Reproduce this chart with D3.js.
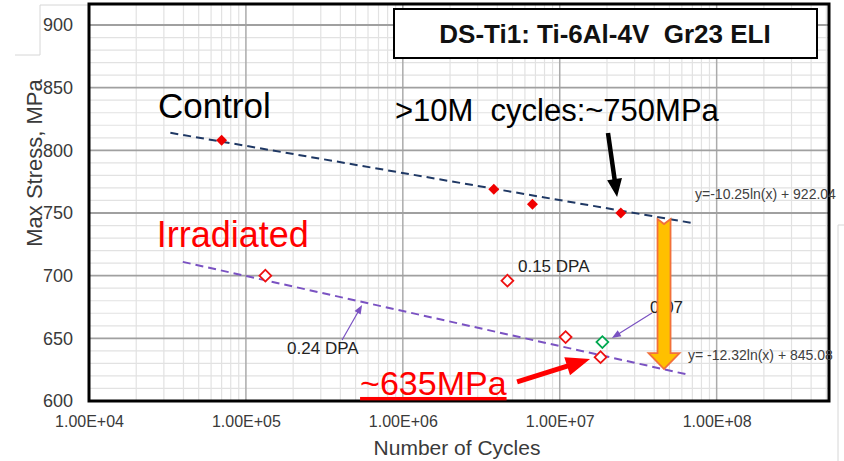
<!DOCTYPE html>
<html>
<head>
<meta charset="utf-8">
<script src="https://cdn.jsdelivr.net/npm/d3@7"></script>
<style>
  body { margin: 0; background: #fff; }
  svg { display: block; font-family: "Liberation Sans", Arial, sans-serif; }
</style>
</head>
<body>
<svg id="chart" width="844" height="461"></svg>
<script>
// values
const controlCycles = [7.0e4, 3.8e6, 6.7e6, 2.45e7];
const controlStress = [808, 769, 757, 750];
const irradCycles = [1.33e5, 4.64e6, 1.09e7, 1.82e7];
const irradStress = [700, 696, 651, 635];
const dpa07Cycles = [1.87e7];
const dpa07Stress = [647];

// trend line ends (cycles, stress)
const controlFit = [[3.3e4, 814], [7.0e7, 742]];
const irradFit = [[3.96e4, 711], [6.57e7, 621]];

const xTicks = [1e4, 1e5, 1e6, 1e7, 1e8];
const xTickLabels = ["1.00E+04", "1.00E+05", "1.00E+06", "1.00E+07", "1.00E+08"];
const yTicks = [600, 650, 700, 750, 800, 850, 900];

const margin = {top: 4, right: 15, bottom: 60, left: 89};
const W = 844, H = 461;

const x = d3.scaleLog()
    .domain([1e4, 5.2e8])
    .range([margin.left, W - margin.right]);

const y = d3.scaleLinear()
    .domain([600, 900])
    .range([H - margin.bottom, 25]);

const svg = d3.select("#chart");

// little leftovers of the pasted chart frame
svg.append("path")
    .attr("d", "M15,55H40V5H89 M844,225H838V461")
    .attr("fill", "none")
    .attr("stroke", "#d6d6d6");

const grid = svg.append("g");

// minor grid
const xMinor = [];
[1e4, 1e5, 1e6, 1e7, 1e8].forEach(d => {
    for (let k = 2; k <= 9; k++) if (d * k < x.domain()[1]) xMinor.push(d * k);
});
const yMinor = d3.range(600, 901, 10).filter(v => v % 50 !== 0);

grid.selectAll(".xm").data(xMinor).enter().append("line")
    .attr("x1", d => x(d)).attr("x2", d => x(d))
    .attr("y1", margin.top).attr("y2", y(600))
    .attr("stroke", "#e2e2e2").attr("stroke-width", 1.2);

grid.selectAll(".ym").data(yMinor).enter().append("line")
    .attr("x1", margin.left).attr("x2", W - margin.right)
    .attr("y1", d => y(d)).attr("y2", d => y(d))
    .attr("stroke", "#e2e2e2").attr("stroke-width", 1.2);

// major grid
grid.selectAll(".xM").data(xTicks).enter().append("line")
    .attr("x1", d => x(d)).attr("x2", d => x(d))
    .attr("y1", margin.top).attr("y2", y(600))
    .attr("stroke", "#ababab").attr("stroke-width", 1.5);

grid.selectAll(".yM").data(yTicks).enter().append("line")
    .attr("x1", margin.left).attr("x2", W - margin.right)
    .attr("y1", d => y(d)).attr("y2", d => y(d))
    .attr("stroke", "#a0a0a0").attr("stroke-width", 1.8);

// axes
const xAxis = d3.axisBottom(x)
    .tickValues(xTicks)
    .tickFormat((d, i) => xTickLabels[i])
    .tickSize(0)
    .tickPadding(15);

const yAxis = d3.axisLeft(y)
    .tickValues(yTicks)
    .tickFormat(d3.format("d"))
    .tickSize(0)
    .tickPadding(16);

svg.append("g")
    .attr("transform", `translate(0,${y(600)})`)
    .call(xAxis)
    .call(g => g.select(".domain").remove())
    .selectAll("text")
    .attr("font-size", 16)
    .attr("fill", "#3a3a3a")
    .attr("font-family", "Liberation Sans, Arial, sans-serif");

svg.append("g")
    .attr("transform", `translate(${margin.left},0)`)
    .call(yAxis)
    .call(g => g.select(".domain").remove())
    .selectAll("text")
    .attr("font-size", 18)
    .attr("fill", "#3a3a3a")
    .attr("font-family", "Liberation Sans, Arial, sans-serif");

svg.append("text")
    .attr("x", 457).attr("y", 455)
    .attr("text-anchor", "middle")
    .attr("font-size", 21)
    .attr("fill", "#3a3a3a")
    .text("Number of Cycles");

svg.append("text")
    .attr("transform", "translate(42,163) rotate(-90)")
    .attr("text-anchor", "middle")
    .attr("font-size", 22)
    .attr("fill", "#3a3a3a")
    .text("Max Stress, MPa");

// trend lines
const line = d3.line().x(d => x(d[0])).y(d => y(d[1]));

svg.append("path")
    .datum(controlFit)
    .attr("d", line)
    .attr("fill", "none")
    .attr("stroke", "#1f3864")
    .attr("stroke-width", 2)
    .attr("stroke-dasharray", "8,5");

svg.append("path")
    .datum(irradFit)
    .attr("d", line)
    .attr("fill", "none")
    .attr("stroke", "#7a52c2")
    .attr("stroke-width", 2)
    .attr("stroke-dasharray", "8,5");

// arrow outline as a polygon
function arrowPath(x1, y1, x2, y2, sw, hw, hl, notch) {
    const dx = x2 - x1, dy = y2 - y1;
    const len = Math.hypot(dx, dy);
    const ux = dx / len, uy = dy / len;
    const px = -uy, py = ux;
    const bx = x2 - ux * hl, by = y2 - uy * hl;
    const pts = [
        [x1 + px * sw / 2, y1 + py * sw / 2],
        [bx + px * sw / 2, by + py * sw / 2],
        [bx + px * hw / 2, by + py * hw / 2],
        [x2, y2],
        [bx - px * hw / 2, by - py * hw / 2],
        [bx - px * sw / 2, by - py * sw / 2],
        [x1 - px * sw / 2, y1 - py * sw / 2]
    ];
    if (notch) pts.push([x1 + ux * notch, y1 + uy * notch]);
    return "M" + pts.map(p => p.join(",")).join("L") + "Z";
}

// labels under the arrows
const ann = svg.append("g");

ann.append("text")
    .attr("x", x(3.76e7)).attr("y", y(670.2))
    .attr("font-size", 17).attr("fill", "#222")
    .text("0.07");

// purple leader arrows
const leaders = [
    [4.1e5, 648.7, 5.5e5, 676.6],
    [3.87e7, 670.2, 2.15e7, 650.3]
];
leaders.forEach(a => {
    ann.append("path")
        .attr("d", arrowPath(x(a[0]), y(a[1]), x(a[2]), y(a[3]), 1.2, 7, 9, 0))
        .attr("fill", "#7a52c2");
});

// orange drop arrow
ann.append("path")
    .attr("d", arrowPath(x(4.62e7), y(745.2), x(4.62e7), y(625.5), 13, 31, 16, 5))
    .attr("fill", "#ffc000")
    .attr("stroke", "#f2703a")
    .attr("stroke-width", 1.8)
    .attr("stroke-linejoin", "miter");

// black arrow
ann.append("path")
    .attr("d", arrowPath(x(2.03e7), y(813.8), x(2.32e7), y(762.8), 4.5, 15, 18, 0))
    .attr("fill", "#000");

// red arrow
ann.append("path")
    .attr("d", arrowPath(x(5.35e6), y(615.2), x(1.56e7), y(633.5), 5, 19, 24, 0))
    .attr("fill", "#ff0000");

// points
const diamond = d3.symbol().type(d3.symbolSquare);

svg.selectAll(".ctrl")
    .data(d3.zip(controlCycles, controlStress))
    .enter().append("path")
    .attr("d", diamond.size(60))
    .attr("transform", d => `translate(${x(d[0])},${y(d[1])}) rotate(45)`)
    .attr("fill", "#f00000");

svg.selectAll(".irr")
    .data(d3.zip(irradCycles, irradStress))
    .enter().append("path")
    .attr("d", diamond.size(70))
    .attr("transform", d => `translate(${x(d[0])},${y(d[1])}) rotate(45)`)
    .attr("fill", "#fff")
    .attr("stroke", "#ee1111")
    .attr("stroke-width", 1.8);

svg.selectAll(".d07")
    .data(d3.zip(dpa07Cycles, dpa07Stress))
    .enter().append("path")
    .attr("d", diamond.size(70))
    .attr("transform", d => `translate(${x(d[0])},${y(d[1])}) rotate(45)`)
    .attr("fill", "#fff")
    .attr("stroke", "#00a850")
    .attr("stroke-width", 1.8);

// plot frame
svg.append("rect")
    .attr("x", margin.left).attr("y", margin.top)
    .attr("width", W - margin.right - margin.left)
    .attr("height", y(600) - margin.top)
    .attr("fill", "none")
    .attr("stroke", "#000")
    .attr("stroke-width", 3);

// text annotations
const notes = [
    {t: "Control", cx: 2.75e4, cy: 825.8, size: 35, color: "#000"},
    {t: "Irradiated", cx: 2.7e4, cy: 722.9, size: 36, color: "#ff0000"},
    {t: ">10M  cycles:~750MPa", cx: 8.9e5, cy: 823.4, size: 31, color: "#000"},
    {t: "0.15 DPA", cx: 5.42e6, cy: 702.9, size: 17, color: "#222"},
    {t: "0.24 DPA", cx: 1.83e5, cy: 637.5, size: 17, color: "#222"},
    {t: "y=-10.25ln(x) + 922.04", cx: 7.28e7, cy: 761.2, size: 14, color: "#404040"},
    {t: "y= -12.32ln(x) + 845.08", cx: 6.57e7, cy: 632.7, size: 14, color: "#404040"}
];
svg.selectAll(".note")
    .data(notes)
    .enter().append("text")
    .attr("x", d => x(d.cx)).attr("y", d => y(d.cy))
    .attr("font-size", d => d.size)
    .attr("fill", d => d.color)
    .style("white-space", "pre")
    .text(d => d.t);

svg.append("text")
    .attr("x", x(5.34e5)).attr("y", y(604.8))
    .attr("font-size", 34)
    .attr("fill", "#ff0000")
    .style("text-decoration", "underline")
    .text("~635MPa");

// title box
const title = svg.append("g").attr("transform", "translate(394,9)");
title.append("rect")
    .attr("width", 423).attr("height", 49)
    .attr("fill", "#fff")
    .attr("stroke", "#000")
    .attr("stroke-width", 2);
title.append("text")
    .attr("x", 211).attr("y", 34)
    .attr("text-anchor", "middle")
    .attr("font-size", 26)
    .attr("font-weight", "bold")
    .attr("fill", "#111")
    .style("white-space", "pre")
    .text("DS-Ti1: Ti-6Al-4V  Gr23 ELI");
</script>
</body>
</html>
